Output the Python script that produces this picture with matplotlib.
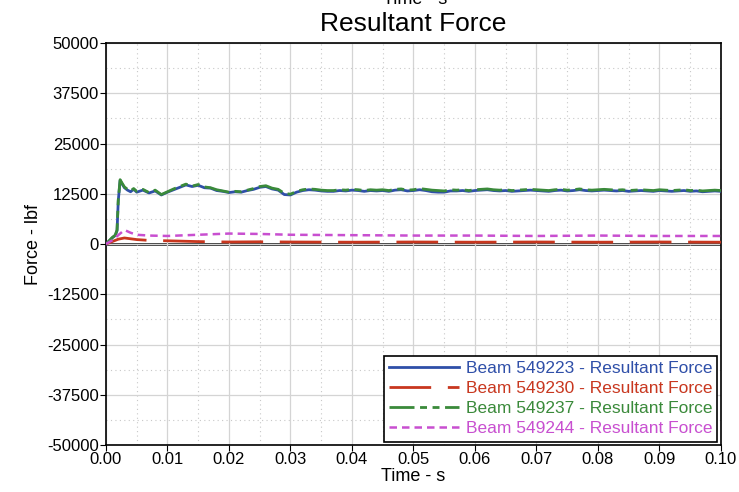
import matplotlib.pyplot as plt
from matplotlib.ticker import MultipleLocator
import numpy as np

plt.rcParams["font.family"] = ["Liberation Sans", "DejaVu Sans"]
plt.rcParams["axes.unicode_minus"] = False

# sample times (s)
t_start = [0.0, 0.0005, 0.001, 0.0015, 0.0018, 0.002, 0.0023, 0.0026, 0.003, 0.0035, 0.004, 0.0045]
t_rest = list(np.round(np.arange(0.005, 0.1001, 0.001), 3))
t_hi = t_start + t_rest

green_start = [0, 800, 1600, 2200, 3500, 11000, 16000, 15200, 14200, 13600, 13200, 13800]
green_rest = [13100, 13600, 12800, 13400, 12300, 13000, 13700, 14300, 14900, 14400,
              14800, 14200, 14000, 13500, 13200, 12900, 13100, 13000, 13400, 13800,
              14300, 14500, 13900, 13600, 12600, 12400, 13100, 13500, 13700, 13600,
              13400, 13300, 13300, 13500, 13400, 13600, 13500, 13300, 13500, 13400,
              13500, 13300, 13600, 13700, 13400, 13500, 13800, 13600, 13400, 13300,
              13200, 13500, 13400, 13500, 13300, 13500, 13600, 13700, 13500, 13400,
              13500, 13300, 13400, 13500, 13600, 13500, 13400, 13300, 13500, 13600,
              13400, 13500, 13700, 13500, 13400, 13500, 13600, 13500, 13400, 13500,
              13300, 13400, 13500, 13400, 13300, 13500, 13400, 13300, 13400, 13500,
              13300, 13400, 13200, 13300, 13400, 13300]
blue_start = [0, 700, 1500, 2100, 3300, 10800, 15800, 15000, 14000, 13400, 13000, 13600]
blue_rest = [12900, 13400, 12700, 13200, 12200, 12900, 13500, 14100, 14700, 14300,
             14600, 14000, 13900, 13300, 13100, 12800, 13000, 12900, 13300, 13600,
             14100, 14300, 13700, 13400, 12300, 12200, 12900, 13300, 13500, 13400,
             13200, 13100, 13100, 13300, 13200, 13400, 13300, 13100, 13300, 13200,
             13300, 13100, 13400, 13500, 13200, 13300, 13500, 13300, 13000, 12900,
             12900, 13200, 13200, 13300, 13100, 13300, 13400, 13500, 13300, 13200,
             13300, 13100, 13200, 13300, 13400, 13300, 13200, 13100, 13300, 13400,
             13200, 13300, 13500, 13300, 13200, 13300, 13400, 13300, 13200, 13300,
             13100, 13200, 13300, 13200, 13100, 13300, 13200, 13100, 13200, 13300,
             13100, 13200, 13000, 13100, 13200, 13100]
blue = blue_start + blue_rest
green = green_start + green_rest

t_lo = [0.0, 0.001, 0.002, 0.003, 0.004, 0.005, 0.007, 0.01, 0.015, 0.02, 0.025,
        0.03, 0.04, 0.05, 0.06, 0.07, 0.08, 0.09, 0.1]
red = [0, 600, 1200, 1500, 1300, 1100, 900, 800, 600, 500, 550, 500, 450, 500,
       450, 500, 450, 500, 450]
magenta = [0, 900, 2200, 3500, 2800, 2300, 2100, 2000, 2300, 2600, 2500, 2300,
           2200, 2100, 2100, 2000, 2100, 2000, 2000]

labels = ["Beam 549223 - Resultant Force", "Beam 549230 - Resultant Force",
          "Beam 549237 - Resultant Force", "Beam 549244 - Resultant Force"]
colors = ["#2f4fa8", "#c8371f", "#3a8a3a", "#c84fd0"]

fig = plt.figure(figsize=(7.39, 4.92), dpi=100)
ax = fig.add_axes([0.1434, 0.0955, 0.8322, 0.8171])

ax.axhline(0, color="black", lw=1.8, zorder=1)
ax.plot(t_hi, blue, color=colors[0], lw=2, label=labels[0], zorder=3)
ax.plot(t_lo, red, color=colors[1], lw=2, dashes=(15, 6), label=labels[1], zorder=3)
ax.plot(t_hi, green, color=colors[2], lw=2, dashes=(9, 2, 2.5, 2, 2.5, 2), label=labels[2], zorder=4)
ax.plot(t_lo, magenta, color=colors[3], lw=1.8, dashes=(3, 2), label=labels[3], zorder=4)

ax.set_xlim(0, 0.1)
ax.set_ylim(-50000, 50000)
ax.xaxis.set_major_locator(MultipleLocator(0.01))
ax.xaxis.set_minor_locator(MultipleLocator(0.005))
ax.yaxis.set_major_locator(MultipleLocator(12500))
ax.yaxis.set_minor_locator(MultipleLocator(6250))
ax.xaxis.set_major_formatter(plt.FormatStrFormatter("%.2f"))
ax.grid(which="major", color="#d4d4d4", lw=0.9)
ax.grid(which="minor", color="#c8c8c8", lw=0.8, ls=(0, (1, 3)))
ax.tick_params(which="major", labelsize=12, length=4, direction="out")
ax.tick_params(which="minor", length=0)
ax.tick_params(axis="x", pad=1)
ax.tick_params(axis="y", pad=1)
for s in ax.spines.values():
    s.set_linewidth(1.2)

ax.set_xlabel("Time - s", fontsize=13, labelpad=1)
ax.set_ylabel("Force - lbf", fontsize=13, labelpad=4)
ax.set_title("Resultant Force", fontsize=19, pad=9)
fig.text(0.562, 1.0, "Time - s", ha="center", va="center", fontsize=13)

leg = ax.legend(loc="lower right", fontsize=12.5, frameon=True, fancybox=False,
                edgecolor="black", framealpha=1, borderpad=0.3, handlelength=4.0,
                labelspacing=0.28, borderaxespad=0.2, handletextpad=0.4)
leg.get_frame().set_linewidth(1.2)
for txt, c in zip(leg.get_texts(), colors):
    txt.set_color(c)

fig.savefig("out.png", dpi=100)
